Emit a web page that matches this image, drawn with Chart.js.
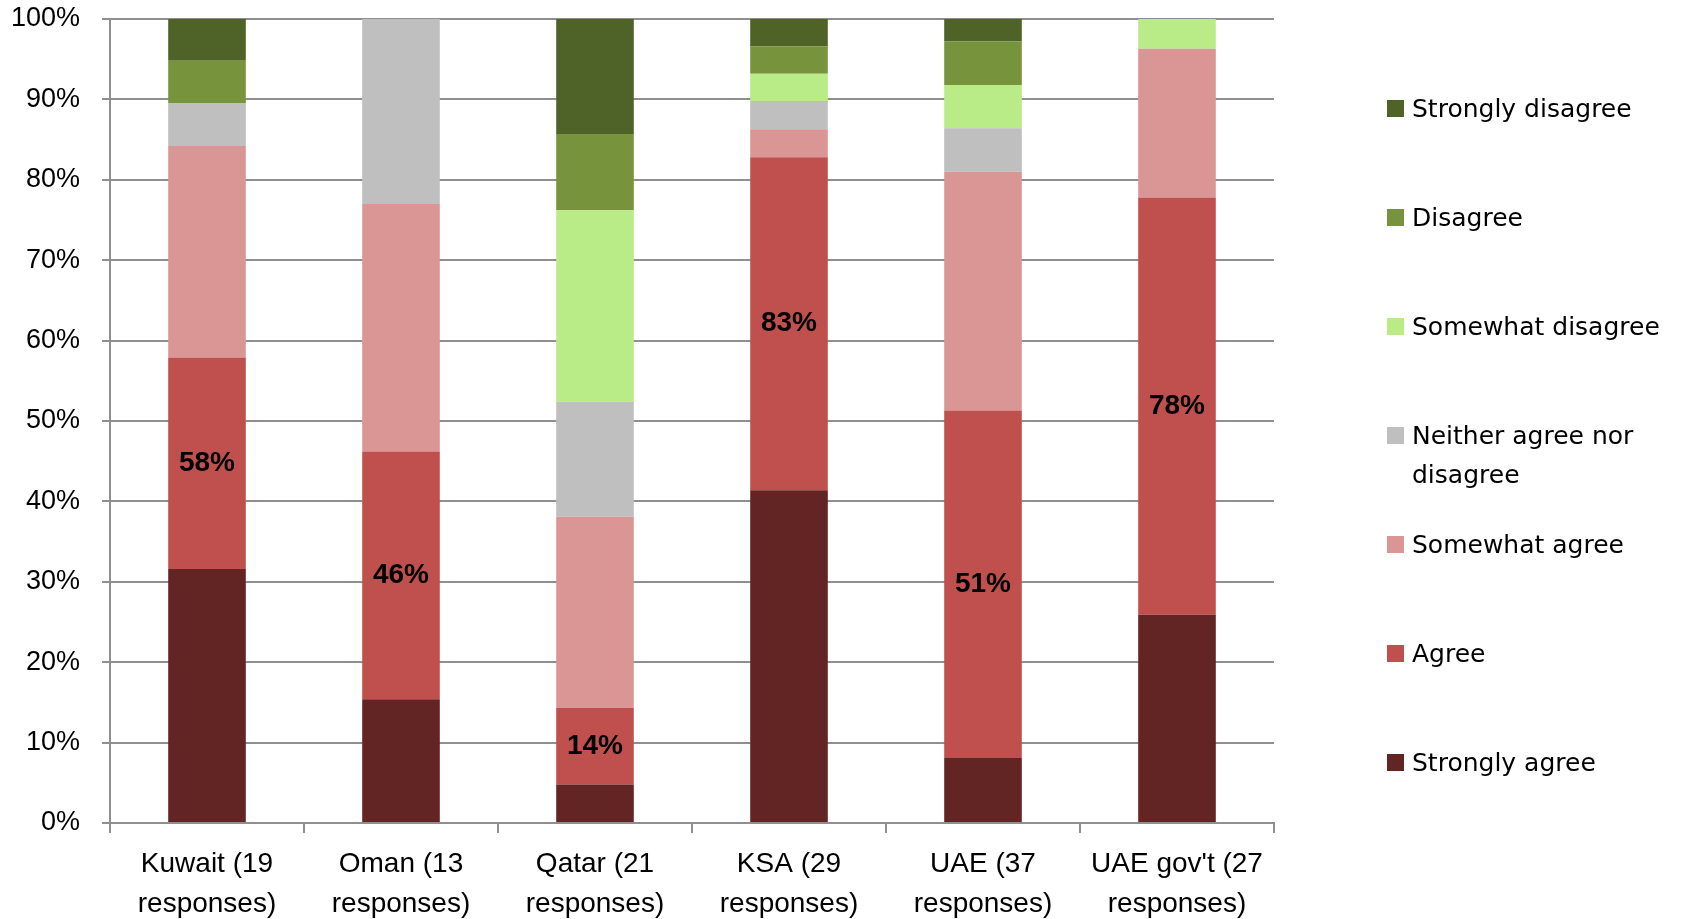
<!DOCTYPE html>
<html>
<head>
<meta charset="utf-8">
<script src="https://cdn.jsdelivr.net/npm/chart.js@4"></script>
<style>
  body { margin: 0; background: #fff; }
  #wrap { position: relative; width: 1682px; height: 919px; }
  #legend { position: absolute; left: 1387px; top: 89px; font-family: "DejaVu Sans", sans-serif; font-size: 25px; color: #000; }
  .item { position: relative; height: 109px; }
  .box { position: absolute; left: 0; top: 11px; width: 17px; height: 17px; }
  .txt { position: absolute; left: 25px; top: 0; width: 275px; line-height: 39px; }
</style>
</head>
<body>
<div id="wrap">
  <canvas id="surveyChart" width="1682" height="919"></canvas>
  <div id="legend"></div>
</div>
<script>
// 국가별 응답 (퍼센트)
const categories = [
  ["Kuwait (19", "responses)"],
  ["Oman (13", "responses)"],
  ["Qatar (21", "responses)"],
  ["KSA (29", "responses)"],
  ["UAE (37", "responses)"],
  ["UAE gov't (27", "responses)"]
];

const seriesNames = ["Strongly agree", "Agree", "Somewhat agree", "Neither agree nor disagree",
  "Somewhat disagree", "Disagree", "Strongly disagree"];
const seriesColors = ["#632523", "#C0504D", "#D99694", "#BFBFBF", "#B9EB86", "#77933C", "#4F6228"];

const stronglyAgree    = [31.6, 15.4, 4.8, 41.4, 8.1, 25.9];
const agree            = [26.3, 30.8, 9.5, 41.4, 43.2, 51.9];
const somewhatAgree    = [26.3, 30.8, 23.8, 3.5, 29.7, 18.5];
const neither          = [5.3, 23.0, 14.3, 3.5, 5.4, 0];
const somewhatDisagree = [0, 0, 23.8, 3.4, 5.4, 3.7];
const disagree         = [5.3, 0, 9.5, 3.4, 5.4, 0];
const stronglyDisagree = [5.2, 0, 14.3, 3.4, 2.8, 0];

const yTicks = [0, 10, 20, 30, 40, 50, 60, 70, 80, 90, 100];

const seriesValues = [stronglyAgree, agree, somewhatAgree, neither, somewhatDisagree, disagree, stronglyDisagree];

const gridColor = "#8f8f8f";
const tickFont = { family: "Liberation Sans", size: 27 };

// Agree 구간 가운데에 (Strongly agree + Agree) 합계 표시
const agreeLabels = {
  id: "agreeLabels",
  afterDatasetsDraw(chart) {
    const ctx = chart.ctx;
    const meta = chart.getDatasetMeta(1);
    ctx.save();
    ctx.font = "bold 28px 'Liberation Sans'";
    ctx.fillStyle = "#000";
    ctx.textAlign = "center";
    ctx.textBaseline = "middle";
    meta.data.forEach((bar, i) => {
      const total = Math.round(stronglyAgree[i] + agree[i]);
      ctx.fillText(total + "%", bar.x, (bar.y + bar.base) / 2);
    });
    ctx.restore();
  }
};

const ctx = document.querySelector("#surveyChart");

new Chart(ctx, {
  type: "bar",
  data: {
    labels: categories,
    datasets: seriesNames.map((name, i) => ({
      label: name,
      data: seriesValues[i],
      backgroundColor: seriesColors[i],
      borderWidth: 0,
      barPercentage: 0.4,
      categoryPercentage: 1
    }))
  },
  options: {
    responsive: false,
    animation: false,
    layout: { padding: { left: 0, right: 408, top: 19, bottom: 0 } },
    plugins: { legend: { display: false }, tooltip: { enabled: false } },
    scales: {
      x: {
        stacked: true,
        offset: true,
        grid: { drawOnChartArea: false, color: gridColor, lineWidth: 2, tickLength: 10, offset: true },
        border: { color: gridColor, width: 2 },
        ticks: { color: "#000", font: { ...tickFont, size: 28, lineHeight: 1.43 }, padding: 11, maxRotation: 0 },
        afterFit(scale) { scale.height = 96; }
      },
      y: {
        stacked: true,
        min: 0,
        max: 100,
        afterBuildTicks(scale) { scale.ticks = yTicks.map(v => ({ value: v })); },
        grid: { color: gridColor, lineWidth: 2, tickLength: 8 },
        border: { color: gridColor, width: 2 },
        ticks: { color: "#000", font: tickFont, padding: 22, callback: v => v + "%" },
        afterFit(scale) {
          scale.width = 110;
          scale.paddingTop = 0;
          scale.paddingBottom = 0;
        }
      }
    }
  },
  plugins: [agreeLabels]
});

// 범례 (위에서부터 Strongly disagree 순서)
const legendEl = document.querySelector("#legend");
for (let i = seriesNames.length - 1; i >= 0; i--) {
  const item = document.createElement("div");
  item.className = "item";
  item.innerHTML = `<span class="box" style="background:${seriesColors[i]}"></span><span class="txt">${seriesNames[i]}</span>`;
  legendEl.appendChild(item);
}
</script>
</body>
</html>
